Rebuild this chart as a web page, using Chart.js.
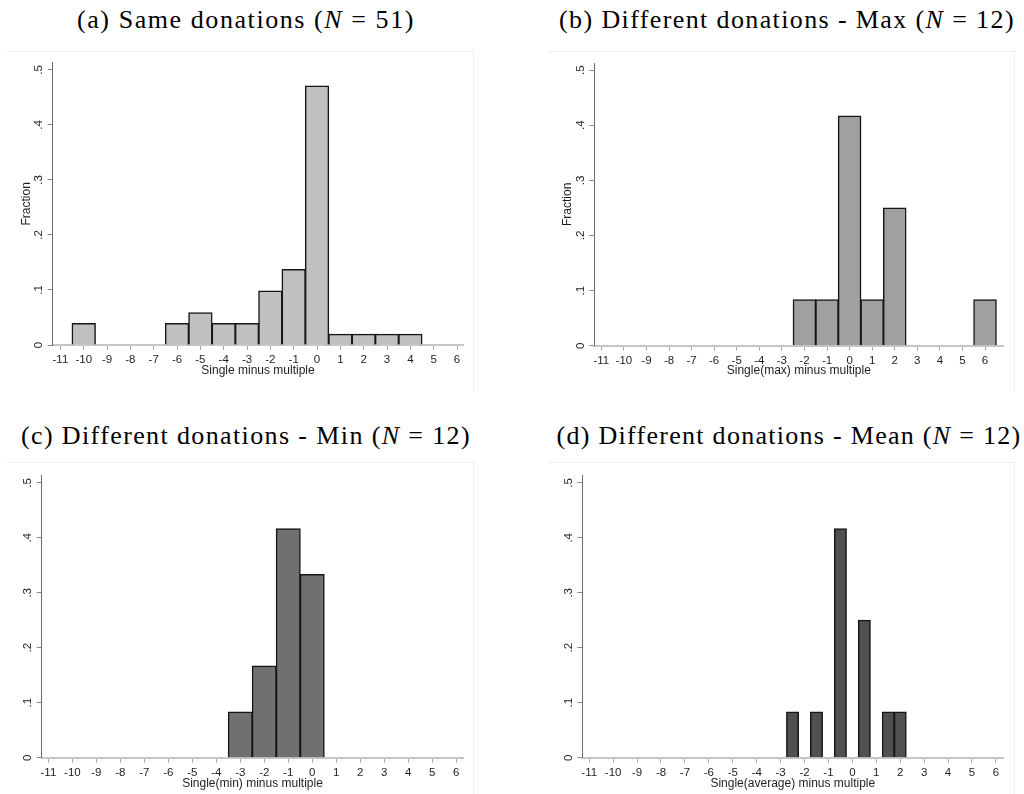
<!DOCTYPE html>
<html>
<head>
<meta charset="utf-8">
<script src="https://cdn.jsdelivr.net/npm/chart.js@4.4.1/dist/chart.umd.min.js"></script>
<style>
  html, body { margin: 0; padding: 0; background: #ffffff; }
  body { width: 1024px; height: 794px; position: relative; overflow: hidden; }
  .ttl {
    position: absolute; white-space: nowrap; line-height: 1;
    font-family: "Liberation Serif", "Times New Roman", serif; font-size: 26px; color: #000;
    transform: translate(-50%, -50%);
  }
  .box { position: absolute; box-sizing: border-box; border-top: 1px solid #eeeeee; border-right: 1px solid #eeeeee; }
  canvas { position: absolute; }
</style>
</head>
<body>
<div class="ttl" data-w="338" style="left:246px;top:20px">(a) Same donations (<i>N</i> = 51)</div>
<div class="ttl" data-w="456" style="left:787px;top:20px">(b) Different donations - Max (<i>N</i> = 12)</div>
<div class="ttl" data-w="450" style="left:246px;top:436px">(c) Different donations - Min (<i>N</i> = 12)</div>
<div class="ttl" data-w="465" style="left:789px;top:436px">(d) Different donations - Mean (<i>N</i> = 12)</div>

<script>
// Axis ticks shared by all four histograms
const xTickValues = [-11, -10, -9, -8, -7, -6, -5, -4, -3, -2, -1, 0, 1, 2, 3, 4, 5, 6];
const xTickLabels = ['-11', '-10', '-9', '-8', '-7', '-6', '-5', '-4', '-3', '-2', '-1', '0', '1', '2', '3', '4', '5', '6'];
const yTickValues = [0, 0.1, 0.2, 0.3, 0.4, 0.5];
const yTickLabels = ['0', '.1', '.2', '.3', '.4', '.5'];
const yMax = 0.513;

// (a) same donations, N = 51: bin centres and fractions
const sameBins = [-10, -6, -5, -4, -3, -2, -1, 0, 1, 2, 3, 4];
const sameFraction = [0.0392, 0.0392, 0.0588, 0.0392, 0.0392, 0.0980, 0.1373, 0.4706, 0.0196, 0.0196, 0.0196, 0.0196];
const sameRange = [-11.33, 6.27];

// (b) different donations, single(max) minus multiple, N = 12
const maxBins = [-2, -1, 0, 1, 2, 6];
const maxFraction = [0.0833, 0.0833, 0.4167, 0.0833, 0.25, 0.0833];
const maxRange = [-11.31, 6.81];

// (c) different donations, single(min) minus multiple, N = 12
const minBins = [-3, -2, -1, 0];
const minFraction = [0.0833, 0.1667, 0.4167, 0.3333];
const minRange = [-11.28, 6.30];

// (d) different donations, single(average) minus multiple, N = 12 (half-unit bins)
const meanBins = [-2.5, -1.5, -0.5, 0.5, 1.5, 2];
const meanFraction = [0.0833, 0.0833, 0.4167, 0.25, 0.0833, 0.0833];
const meanRange = [-11.29, 6.31];

// Fit each LaTeX-style heading to its width
document.querySelectorAll('.ttl').forEach(el => {
  const target = +el.dataset.w;
  const n = el.textContent.length;
  const w = el.getBoundingClientRect().width;
  el.style.letterSpacing = ((target - w) / n).toFixed(2) + 'px';
});

// Page geometry of each graph region (box) and its plot area
const panels = [
  { bins: sameBins, values: sameFraction, range: sameRange, fill: '#c0c0c0',
    xTitle: 'Single minus multiple', yTitle: 'Fraction',
    box: { l: 7, t: 51, w: 467, h: 341 }, area: { l: 52.7, t: 62.7, r: 463.3, b: 345 },
    xTitleY: 371, yTitleX: 26.7 },
  { bins: maxBins, values: maxFraction, range: maxRange, fill: '#a0a0a0',
    xTitle: 'Single(max) minus multiple', yTitle: 'Fraction',
    box: { l: 548, t: 51, w: 467, h: 341 }, area: { l: 594.3, t: 63, r: 1003.3, b: 345.7 },
    xTitleY: 371, yTitleX: 567.7 },
  { bins: minBins, values: minFraction, range: minRange, fill: '#707070',
    xTitle: 'Single(min) minus multiple', yTitle: '',
    box: { l: 7, t: 462, w: 467, h: 332 }, area: { l: 41.7, t: 475.7, r: 463.3, b: 757.7 },
    xTitleY: 783.3, yTitleX: 0 },
  { bins: meanBins, values: meanFraction, range: meanRange, fill: '#505050',
    xTitle: 'Single(average) minus multiple', yTitle: '',
    box: { l: 548, t: 462, w: 467, h: 332 }, area: { l: 582.3, t: 475.7, r: 1003.3, b: 757.7 },
    xTitleY: 783.3, yTitleX: 0 }
];

const tickFont = { family: '"Liberation Sans", Arial, sans-serif', size: 11.5 };
const titleFont = { family: '"Liberation Sans", Arial, sans-serif', size: 12 };

panels.forEach(p => {
  const frame = document.createElement('div');
  frame.className = 'box';
  Object.assign(frame.style, { left: p.box.l + 'px', top: p.box.t + 'px', width: p.box.w + 'px', height: p.box.h + 'px' });
  document.body.appendChild(frame);

  const cv = document.createElement('canvas');
  cv.width = p.box.w; cv.height = p.box.h;
  Object.assign(cv.style, { left: p.box.l + 'px', top: p.box.t + 'px', width: p.box.w + 'px', height: p.box.h + 'px' });
  document.body.appendChild(cv);

  const boxR = p.box.l + p.box.w, boxB = p.box.t + p.box.h;
  const lh = titleFont.size * 1.2;

  new Chart(cv.getContext('2d'), {
    type: 'bar',
    data: {
      datasets: [{
        data: p.bins.map((b, i) => ({ x: b, y: p.values[i] })),
        backgroundColor: p.fill,
        borderColor: '#161616',
        borderWidth: 1.5,
        inflateAmount: 0.5,
        barPercentage: 1,
        categoryPercentage: 1
      }]
    },
    options: {
      responsive: false,
      animation: false,
      devicePixelRatio: 1,
      layout: { padding: { top: p.area.t - p.box.t, right: boxR - p.area.r, left: 0, bottom: 0 } },
      plugins: { legend: { display: false }, tooltip: { enabled: false } },
      scales: {
        x: {
          type: 'linear', min: p.range[0], max: p.range[1], offset: false,
          afterBuildTicks: s => { s.ticks = xTickValues.map(v => ({ value: v })); },
          afterFit: s => { s.height = boxB - p.area.b; },
          grid: { offset: false, drawOnChartArea: false, drawTicks: true, tickLength: 5, color: '#a8a8a8' },
          border: { display: true, color: '#c6c6c6', width: 2 },
          ticks: {
            autoSkip: false, maxRotation: 0, minRotation: 0, padding: 3,
            font: tickFont, color: '#1e1e1e',
            callback: (v, i) => xTickLabels[i]
          },
          title: {
            display: true, text: p.xTitle, font: titleFont, color: '#1e1e1e',
            padding: { top: 0, bottom: (boxB - p.xTitleY) - lh / 2 }
          }
        },
        y: {
          type: 'linear', min: 0, max: yMax,
          afterBuildTicks: s => { s.ticks = yTickValues.map(v => ({ value: v })); },
          afterFit: s => { s.width = p.area.l - p.box.l; },
          grid: { drawOnChartArea: false, drawTicks: true, tickLength: 5, color: '#8a8a8a' },
          border: { display: true, color: '#6a6a6a', width: 1 },
          ticks: {
            minRotation: 90, maxRotation: 90, crossAlign: 'center', padding: 4,
            font: tickFont, color: '#1e1e1e',
            callback: (v, i) => yTickLabels[i]
          },
          title: {
            display: p.yTitle !== '', text: p.yTitle, font: titleFont, color: '#1e1e1e',
            padding: { top: (p.yTitleX - p.box.l) - lh / 2, bottom: 0 }
          }
        }
      }
    }
  });
});
</script>
</body>
</html>
